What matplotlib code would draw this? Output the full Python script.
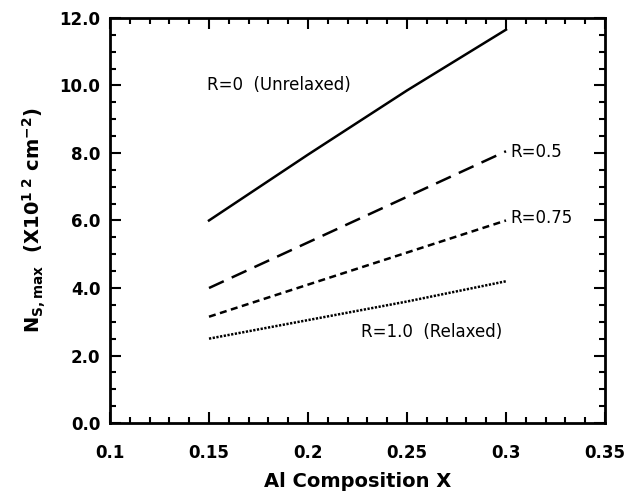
import numpy as np
import matplotlib
matplotlib.use('Agg')
import matplotlib.pyplot as plt
from matplotlib.ticker import MultipleLocator, FormatStrFormatter

plt.rcParams['font.family'] = ['DejaVu Sans']
plt.rcParams['mathtext.fontset'] = 'dejavusans'

# Al composition points
x_pts = [0.15, 0.20, 0.25, 0.30]

ns_r0 = [6.0, 7.95, 9.85, 11.65]
ns_r05 = [4.0, 5.35, 6.7, 8.05]
ns_r075 = [3.15, 4.1, 5.05, 6.0]
ns_r10 = [2.5, 3.05, 3.6, 4.2]

labels = ["R=0  (Unrelaxed)", "R=0.5", "R=0.75", "R=1.0  (Relaxed)"]
label_pos = [(0.149, 10.0), (0.302, 8.03), (0.302, 6.07), (0.227, 2.7)]

fig = plt.figure(figsize=(6.3, 4.96), dpi=100)
ax = fig.add_axes([0.1746, 0.147, 0.7857, 0.817])

ax.plot(x_pts, ns_r0, color="black", lw=1.8, ls="-")
ax.plot(x_pts, ns_r05, color="black", lw=1.8, ls=(0, (6.5, 3.5)))
ax.plot(x_pts, ns_r075, color="black", lw=1.8, ls=(0, (2.8, 1.8)))
ax.plot(x_pts, ns_r10, color="black", lw=1.8, ls=(0, (0.9, 0.6)))

for txt, (tx, ty) in zip(labels, label_pos):
    ax.text(tx, ty, txt, fontsize=12, va="center", ha="left")

ax.set_xlim(0.1, 0.35)
ax.set_ylim(0, 12)
ax.xaxis.set_major_locator(MultipleLocator(0.05))
ax.xaxis.set_minor_locator(MultipleLocator(0.01))
ax.yaxis.set_major_locator(MultipleLocator(2.0))
ax.yaxis.set_minor_locator(MultipleLocator(0.5))
ax.yaxis.set_major_formatter(FormatStrFormatter("%.1f"))
ax.set_xticks([0.1, 0.15, 0.2, 0.25, 0.3, 0.35])
ax.set_xticklabels(["0.1", "0.15", "0.2", "0.25", "0.3", "0.35"])

ax.tick_params(which="both", direction="in", top=True, right=True, width=1.5)
ax.tick_params(which="major", length=8, labelsize=12)
ax.tick_params(which="minor", length=4)
ax.tick_params(axis="x", which="major", pad=15)
ax.tick_params(axis="y", which="major", pad=7)
for lbl in ax.get_xticklabels() + ax.get_yticklabels():
    lbl.set_fontweight("bold")
for sp in ax.spines.values():
    sp.set_linewidth(2)

ax.set_xlabel("Al Composition X", fontsize=14, fontweight="bold", labelpad=7)
ax.set_ylabel(r"N$_{\mathbf{S,max}}$  (X10$^{\mathbf{1\ 2}}$ cm$^{\mathbf{-2}}$)",
              fontsize=14, fontweight="bold", labelpad=8)

fig.savefig("out.png", dpi=100)
